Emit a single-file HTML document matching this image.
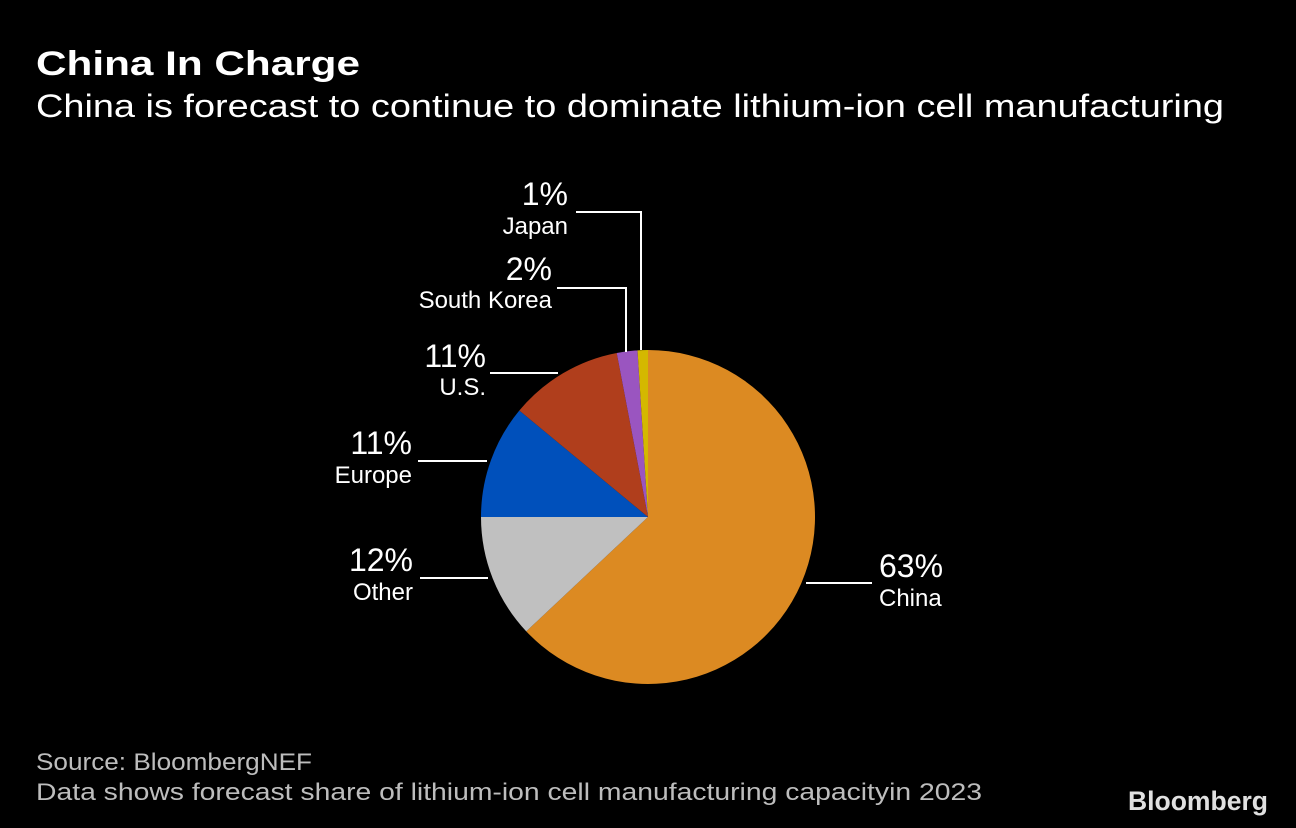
<!DOCTYPE html>
<html><head><meta charset="utf-8">
<style>
html,body{margin:0;padding:0;background:#000;}
svg{display:block;font-family:"Liberation Sans",sans-serif;}
</style></head>
<body>
<svg id="chart" width="1296" height="828" viewBox="0 0 1296 828">
<rect width="1296" height="828" fill="#000"/>
<text x="36" y="75" font-size="34" font-weight="bold" fill="#fff" textLength="324" lengthAdjust="spacingAndGlyphs">China In Charge</text>
<text x="36" y="117" font-size="32" fill="#fff" textLength="1188" lengthAdjust="spacingAndGlyphs">China is forecast to continue to dominate lithium-ion cell manufacturing</text>
<g id="slices"></g>
<g id="labels"></g>
<text x="36" y="770" font-size="24" fill="#bdbdbd" textLength="276" lengthAdjust="spacingAndGlyphs">Source: BloombergNEF</text>
<text x="36" y="800" font-size="24" fill="#bdbdbd" textLength="946" lengthAdjust="spacingAndGlyphs">Data shows forecast share of lithium-ion cell manufacturing capacityin 2023</text>
<text x="1128" y="810" font-size="27" font-weight="bold" fill="#e0e0e0" textLength="140" lengthAdjust="spacingAndGlyphs">Bloomberg</text>
</svg>
<script>
const categories = ["China","Other","Europe","U.S.","South Korea","Japan"];
const values = [63,12,11,11,2,1];
const colors = ["#dc8a22","#c0c0c0","#0050bb","#b03e1c","#9a55c0","#d4b800"];
const cx=648, cy=517, r=167;
const NS="http://www.w3.org/2000/svg";
const total=values.reduce((a,b)=>a+b,0);
function pt(frac,rad){const a=frac*2*Math.PI;return [cx+rad*Math.sin(a), cy-rad*Math.cos(a)];}
const sg=document.getElementById('slices');
let acc=0;
values.forEach((v,i)=>{
  const f0=acc/total, f1=(acc+v)/total; acc+=v;
  const p0=pt(f0,r), p1=pt(f1,r);
  const large=(f1-f0)>0.5?1:0;
  const path=document.createElementNS(NS,'path');
  path.setAttribute('d',`M${cx},${cy}L${p0[0]},${p0[1]}A${r},${r} 0 ${large} 1 ${p1[0]},${p1[1]}Z`);
  path.setAttribute('fill',colors[i]);
  
  
  sg.appendChild(path);
});
// label layout (positions only)
const layout=[
 {pts:[[806,583],[872,583]],tx:879,anchor:"start",y1:577,y2:606},
 {pts:[[420,578],[488,578]],tx:413,anchor:"end",y1:571,y2:600},
 {pts:[[418,461],[487,461]],tx:412,anchor:"end",y1:454,y2:483},
 {pts:[[490,373],[558,373]],tx:486,anchor:"end",y1:367,y2:395},
 {pts:[[557,288],[626,288],[626,352]],tx:552,anchor:"end",y1:280,y2:308},
 {pts:[[576,212],[641,212],[641,350]],tx:568,anchor:"end",y1:205,y2:234}
];
const lg=document.getElementById('labels');
categories.forEach((c,i)=>{
  const L=layout[i];
  const pl=document.createElementNS(NS,'polyline');
  pl.setAttribute('points',L.pts.map(p=>p.join(',')).join(' '));
  pl.setAttribute('fill','none');pl.setAttribute('stroke','#fff');pl.setAttribute('stroke-width','2');
  
  
  lg.appendChild(pl);
  const t1=document.createElementNS(NS,'text');
  t1.setAttribute('x',L.tx);t1.setAttribute('y',L.y1);t1.setAttribute('text-anchor',L.anchor);
  t1.setAttribute('font-size','32');t1.setAttribute('fill','#fff');
  t1.textContent=values[i]+'%';
  
  
  lg.appendChild(t1);
  const t2=document.createElementNS(NS,'text');
  t2.setAttribute('x',L.tx);t2.setAttribute('y',L.y2);t2.setAttribute('text-anchor',L.anchor);
  t2.setAttribute('font-size','24');t2.setAttribute('fill','#fff');
  t2.textContent=c;
  
  
  lg.appendChild(t2);
});
</script>
</body></html>
